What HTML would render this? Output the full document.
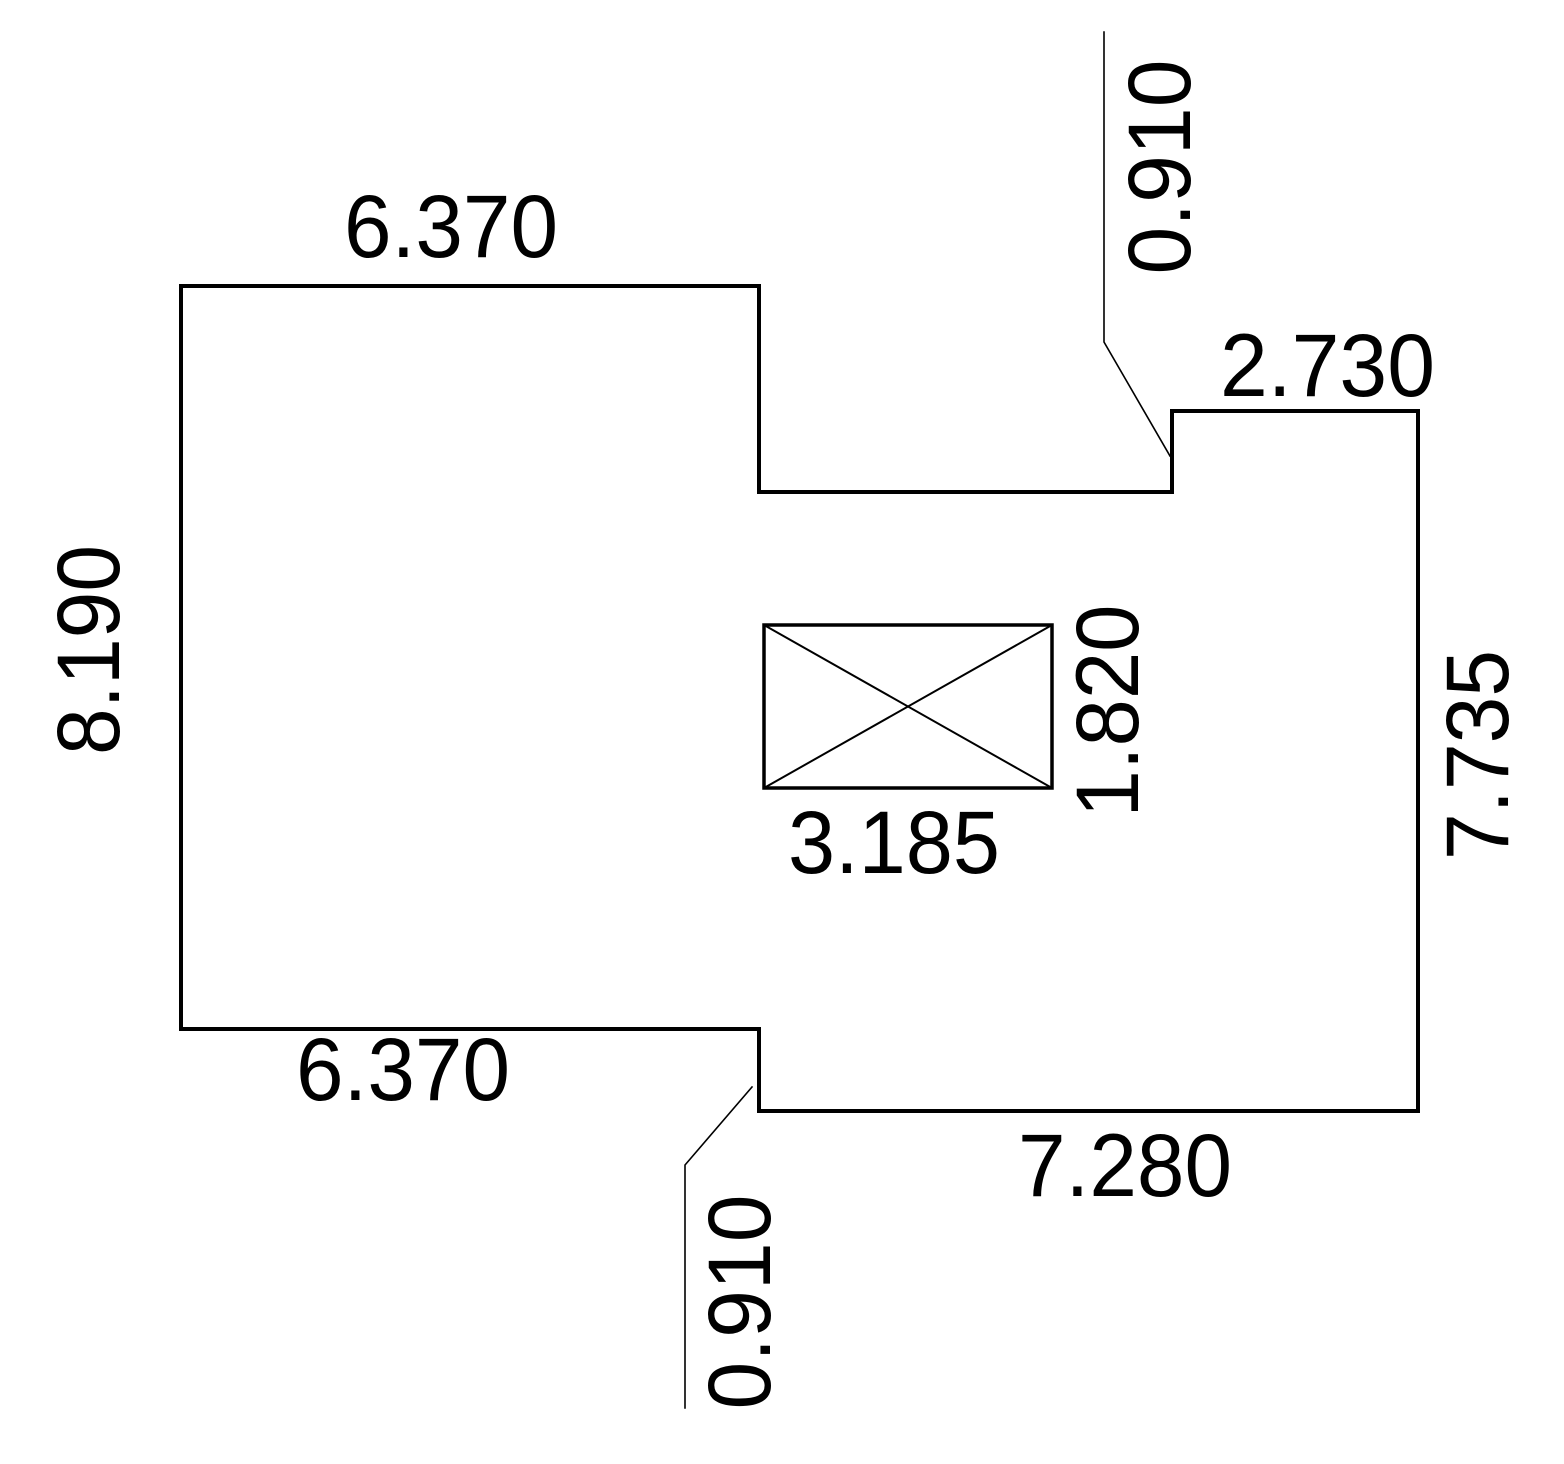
<!DOCTYPE html>
<html><head><style>html,body{margin:0;padding:0;background:#fff}svg{display:block}</style></head>
<body>
<svg width="1564" height="1464" viewBox="0 0 1564 1464" xmlns="http://www.w3.org/2000/svg">
<g fill="none" stroke="#000" stroke-linecap="square">
<path d="M181,286 L759,286 L759,492 L1172,492 L1172,411 L1418,411 L1418,1111 L759,1111 L759,1029 L181,1029 Z" stroke-width="4"/>
<rect x="764" y="625" width="288" height="163" stroke-width="3.5"/>
<path d="M764,625 L1052,788 M764,788 L1052,625" stroke-width="2"/>
<path d="M1104,32 L1104,342 L1170,456" stroke-width="1.6"/>
<path d="M752,1087 L685,1165 L685,1408" stroke-width="1.6"/>
</g>
<g font-family="Liberation Sans, sans-serif" font-size="89" fill="#000">
<text x="344" y="257" textLength="214" lengthAdjust="spacingAndGlyphs">6.370</text>
<text x="1220" y="396" textLength="215" lengthAdjust="spacingAndGlyphs">2.730</text>
<text x="296" y="1100" textLength="214" lengthAdjust="spacingAndGlyphs">6.370</text>
<text x="1018" y="1196" textLength="214" lengthAdjust="spacingAndGlyphs">7.280</text>
<text x="788" y="873" textLength="212" lengthAdjust="spacingAndGlyphs">3.185</text>
<text transform="translate(119,650) rotate(-90)" text-anchor="middle" textLength="210" lengthAdjust="spacingAndGlyphs">8.190</text>
<text transform="translate(1190,167) rotate(-90)" text-anchor="middle" textLength="215" lengthAdjust="spacingAndGlyphs">0.910</text>
<text transform="translate(1138,711) rotate(-90)" text-anchor="middle" textLength="213" lengthAdjust="spacingAndGlyphs">1.820</text>
<text transform="translate(1508,755) rotate(-90)" text-anchor="middle" textLength="210" lengthAdjust="spacingAndGlyphs">7.735</text>
<text transform="translate(770,1302) rotate(-90)" text-anchor="middle" textLength="215" lengthAdjust="spacingAndGlyphs">0.910</text>
</g>
</svg>
</body></html>
